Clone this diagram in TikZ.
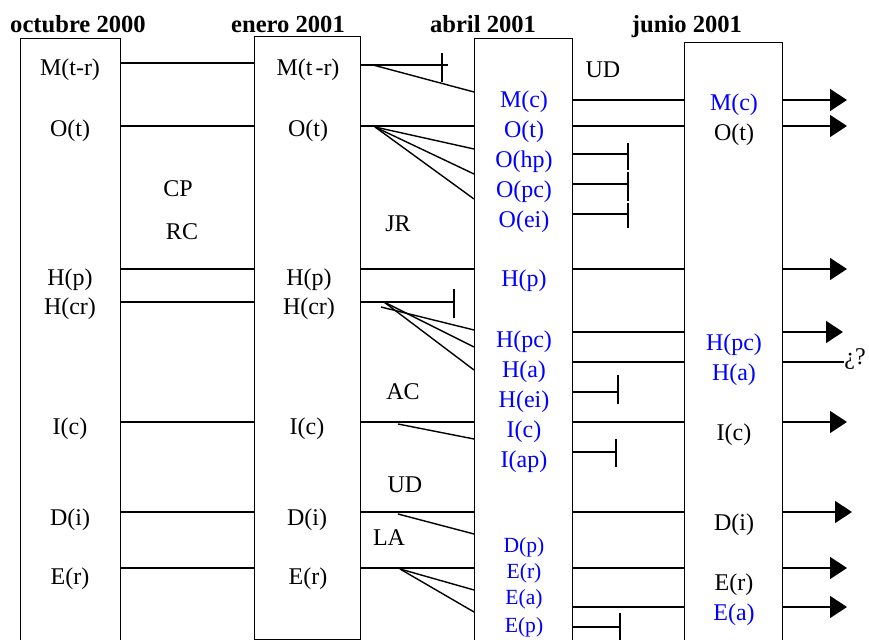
\documentclass[tikz,border=0pt]{standalone}
\usepackage{fontspec}
\setmainfont{Liberation Serif}
\usetikzlibrary{arrows.meta}
\begin{document}
\begin{tikzpicture}[x=0.5pt,y=-0.5pt,
  box/.style={draw,line width=0.7pt,inner sep=0,anchor=north west},
  lbl/.style={anchor=base,inner sep=0,font=\fontsize{12}{14}\selectfont},
  blbl/.style={lbl,text=blue},
  sblbl/.style={anchor=base,inner sep=0,text=blue,font=\fontsize{10.8}{13}\selectfont},
  hdr/.style={anchor=base,inner sep=0,font=\fontsize{12.3}{14}\selectfont\bfseries},
  conn/.style={line width=0.7pt},
  arr/.style={conn,-{Triangle[length=8.5pt,width=11pt]}}]
\useasboundingbox (0,0) rectangle (869,640);
\clip (0,0) rectangle (869,640);
% headers
\node[hdr] (h1) at (78,33) {octubre 2000};
\node[hdr] (h2) at (288,33) {enero 2001};
\node[hdr] (h3) at (483,33) {abril 2001};
\node[hdr] (h4) at (687,33) {junio 2001};
% boxes
\node[box,minimum width=50pt,minimum height=311pt] (b1) at (20,38) {};
\node[box,minimum width=53pt,minimum height=301.5pt] (b2) at (254,36) {};
\node[box,minimum width=49pt,minimum height=311pt] (b3) at (474,38) {};
\node[box,minimum width=49pt,minimum height=309pt] (b4) at (684,42) {};
% box 1 labels
\node[lbl] (a1) at (70,76) {M(t-r)};
\node[lbl] (a2) at (70,137) {O(t)};
\node[lbl] (a3) at (70,286) {H(p)};
\node[lbl] (a4) at (70,315) {H(cr)};
\node[lbl] (a5) at (70,435) {I(c)};
\node[lbl] (a6) at (70,526) {D(i)};
\node[lbl] (a7) at (70,585) {E(r)};
% box 2 labels
\node[lbl] (c1) at (308,76) {M(t\kern1.5pt-r)};
\node[lbl] (c2) at (308,137) {O(t)};
\node[lbl] (c3) at (309,286) {H(p)};
\node[lbl] (c4) at (309,315) {H(cr)};
\node[lbl] (c5) at (307,435) {I(c)};
\node[lbl] (c6) at (307,526) {D(i)};
\node[lbl] (c7) at (308,585) {E(r)};
% box 3 labels
\node[blbl] (d1) at (524,108) {M(c)};
\node[blbl] (d2) at (524,138) {O(t)};
\node[blbl] (d3) at (524,168) {O(hp)};
\node[blbl] (d4) at (524,198) {O(pc)};
\node[blbl] (d5) at (524,228) {O(ei)};
\node[blbl] (d6) at (524,287) {H(p)};
\node[blbl] (d7) at (524,348) {H(pc)};
\node[blbl] (d8) at (524,378) {H(a)};
\node[blbl] (d9) at (524,408) {H(ei)};
\node[blbl] (d10) at (524,438) {I(c)};
\node[blbl] (d11) at (524,468) {I(ap)};
\node[sblbl] (d12) at (524,553) {D(p)};
\node[sblbl] (d13) at (524,579) {E(r)};
\node[sblbl] (d14) at (524,605) {E(a)};
\node[sblbl] (d15) at (524,633) {E(p)};
% box 4 labels
\node[blbl] (e1) at (734,111) {M(c)};
\node[lbl] (e2) at (734,141) {O(t)};
\node[blbl] (e3) at (734,351) {H(pc)};
\node[blbl] (e4) at (734,381) {H(a)};
\node[lbl] (e5) at (734,441) {I(c)};
\node[lbl] (e6) at (734,531) {D(i)};
\node[lbl] (e7) at (734,591) {E(r)};
\node[blbl] (e8) at (734,621) {E(a)};
% in-between labels
\node[lbl] (cp) at (178,197) {CP};
\node[lbl] (rc) at (182,240) {RC};
\node[lbl] (jr) at (398,232) {JR};
\node[lbl] (ac) at (403,400) {AC};
\node[lbl] (ud1) at (405,493) {UD};
\node[lbl] (la) at (389,546) {LA};
\node[lbl] (ud2) at (603,78) {UD};
\node[lbl] (qq) at (855,365) {¿?};
% box1 -> box2
\foreach \y in {63,126,269,302,422,512,568}
  \draw[conn] (b1.east |- 0,\y) -- (b2.west |- 0,\y);
% box2 -> box3
\foreach \y in {126,269,422,512,568}
  \draw[conn] (b2.east |- 0,\y) -- (b3.west |- 0,\y);
\coordinate (s1) at (448,65);
\coordinate (s2) at (454,302);
\draw[conn] (b2.east |- 0,65) -- (s1);
\draw[conn] (442,53) -- (442,82);
\draw[conn] (b2.east |- 0,302) -- (s2);
\draw[conn] (454,289) -- (454,318);
% fans
\coordinate (f1) at (373,65);
\coordinate (f2) at (375,127);
\coordinate (f3a) at (381,307);
\coordinate (f3b) at (384,302);
\coordinate (f4) at (398,424);
\coordinate (f5) at (398,514);
\coordinate (f6) at (400,569);
\draw[conn] (f1) -- (b3.west |- 0,92);
\foreach \y in {149,174,199} \draw[conn] (f2) -- (b3.west |- 0,\y);
\draw[conn] (f3a) -- (b3.west |- 0,330);
\draw[conn] (f3b) -- (b3.west |- 0,347);
\draw[conn] (f3b) -- (b3.west |- 0,370);
\draw[conn] (f4) -- (b3.west |- 0,439);
\draw[conn] (f5) -- (b3.west |- 0,534);
\foreach \y in {590,612} \draw[conn] (f6) -- (b3.west |- 0,\y);
% box3 -> box4
\foreach \y in {100,126,269,332,362,422,512,568,607}
  \draw[conn] (b3.east |- 0,\y) -- (b4.west |- 0,\y);
% stubs from box3
\coordinate (t1) at (628,154);
\coordinate (t2) at (628,184);
\coordinate (t3) at (628,214);
\coordinate (t4) at (618,392);
\coordinate (t5) at (616,452);
\coordinate (t6) at (620,627);
\draw[conn] (b3.east |- t1) -- (t1);
\draw[conn] (b3.east |- t2) -- (t2);
\draw[conn] (b3.east |- t3) -- (t3);
\draw[conn] (628,143) -- (628,170);
\draw[conn] (628,172) -- (628,201);
\draw[conn] (628,203) -- (628,228);
\draw[conn] (b3.east |- t4) -- (t4);
\draw[conn] (618,375) -- (618,404);
\draw[conn] (b3.east |- t5) -- (t5);
\draw[conn] (616,439) -- (616,467);
\draw[conn] (b3.east |- t6) -- (t6);
\draw[conn] (620,613) -- (620,645);
% outputs from box4
\foreach \y/\x in {100/847,126/847,269/847,332/843,422/847,512/852,568/847,607/847}
  \draw[arr] (b4.east |- 0,\y) -- (\x,\y);
\draw[conn] (b4.east |- 0,362) -- (qq.west |- 0,362);
\end{tikzpicture}
\end{document}
